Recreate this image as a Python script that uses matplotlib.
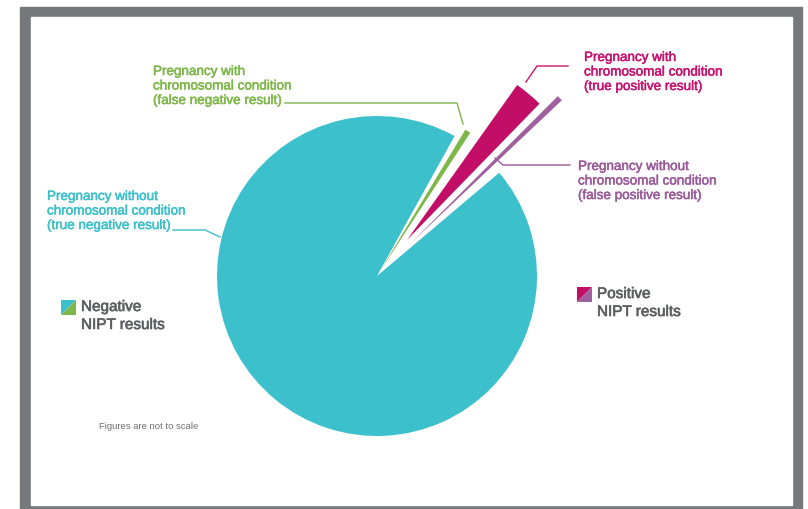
import matplotlib.pyplot as plt
import matplotlib.patheffects as pe
from matplotlib.patches import Rectangle, Polygon

# slices, counter-clockwise from the top-left edge of the big slice
segments = ["true negative", "false positive", "true positive", "false negative"]
shares = [339.2, 1.6, 8.8, 2.0]
colors = ["#3cc0cc", "#a0609e", "#c20e66", "#7db749"]

labels = [
    ["Pregnancy without", "chromosomal condition", "(true negative result)"],
    ["Pregnancy without", "chromosomal condition", "(false positive result)"],
    ["Pregnancy with", "chromosomal condition", "(true positive result)"],
    ["Pregnancy with", "chromosomal condition", "(false negative result)"],
]
legend_text = [["Negative", "NIPT results"], ["Positive", "NIPT results"]]
note = "Figures are not to scale"

W, H = 808, 510
fig = plt.figure(figsize=(W / 100, H / 100), dpi=100)
ax = fig.add_axes([0, 0, 1, 1])

plt.rcParams['font.family'] = ['Liberation Sans', 'DejaVu Sans']

# frame
ax.add_patch(Rectangle((20, 0), 782, H - 8, color="#77787b", zorder=0))
ax.add_patch(Rectangle((31, 4), 761, H - 22, color="white", zorder=0))

# gaps between the small slices, explode and radius for each slice
gaps = [3.2, 0.8, 2.3, 2.1]
explode = [0, 47, 47, 5]
radii = [160, 208, 190, 166]

vals, cols, expl = [], [], []
for s, g, c, e in zip(shares, gaps, colors, explode):
    vals += [s, g]
    cols += [c, "none"]
    expl += [e, 0]

wedges, _ = ax.pie(vals, colors=cols, startangle=61, counterclock=True,
                   center=(377, H - 277), radius=160, explode=expl,
                   wedgeprops=dict(linewidth=0))
for i, r in enumerate(radii):
    wedges[2 * i].set_radius(r)
for i in range(len(shares)):
    wedges[2 * i + 1].set_visible(False)

ax.set_xlim(0, W)
ax.set_ylim(0, H)
ax.set_aspect('auto')
ax.axis('off')

fs = 9.7
def block(x, y, lines, color, size=fs, step=14.5, stroke=0.35):
    for k, t in enumerate(lines):
        ax.text(x, H - (y + k * step), t, color=color, fontsize=size,
                ha='left', va='center',
                path_effects=[pe.withStroke(linewidth=stroke, foreground=color)])

text_colors = ["#3cc0cc", "#9b5a99", "#c8126e", "#7db749"]
block(47, 198, labels[0], text_colors[0])
block(578, 168, labels[1], text_colors[1])
block(584, 59, labels[2], text_colors[2])
block(153, 73, labels[3], text_colors[3])

# leader lines
lw = 1.0
ax.plot([173, 205, 220], [H - 231, H - 231, H - 238], color=text_colors[0], lw=lw)
ax.plot([570, 503, 495], [H - 166, H - 166, H - 159], color=text_colors[1], lw=lw)
ax.plot([568, 537, 526], [H - 67, H - 67, H - 83], color=text_colors[2], lw=lw)
ax.plot([285, 457, 463], [H - 104, H - 104, H - 125], color=text_colors[3], lw=lw)

# legend squares split on the diagonal
def square(x, y, c1, c2, s=15):
    ax.add_patch(Polygon([(x, H - y), (x + s, H - y), (x, H - y - s)], color=c1, lw=0))
    ax.add_patch(Polygon([(x + s, H - y), (x + s, H - y - s), (x, H - y - s)], color=c2, lw=0))

square(61, 301, colors[0], colors[3])
square(577, 288, colors[2], colors[1])
block(81, 308, legend_text[0], "#5d5e61", size=11, step=18, stroke=0.45)
block(597, 295, legend_text[1], "#5d5e61", size=11, step=18, stroke=0.45)

ax.text(99, H - 427, note, color="#6d6e71", fontsize=6.8, ha='left', va='center')

fig.savefig("out.png", dpi=100)
